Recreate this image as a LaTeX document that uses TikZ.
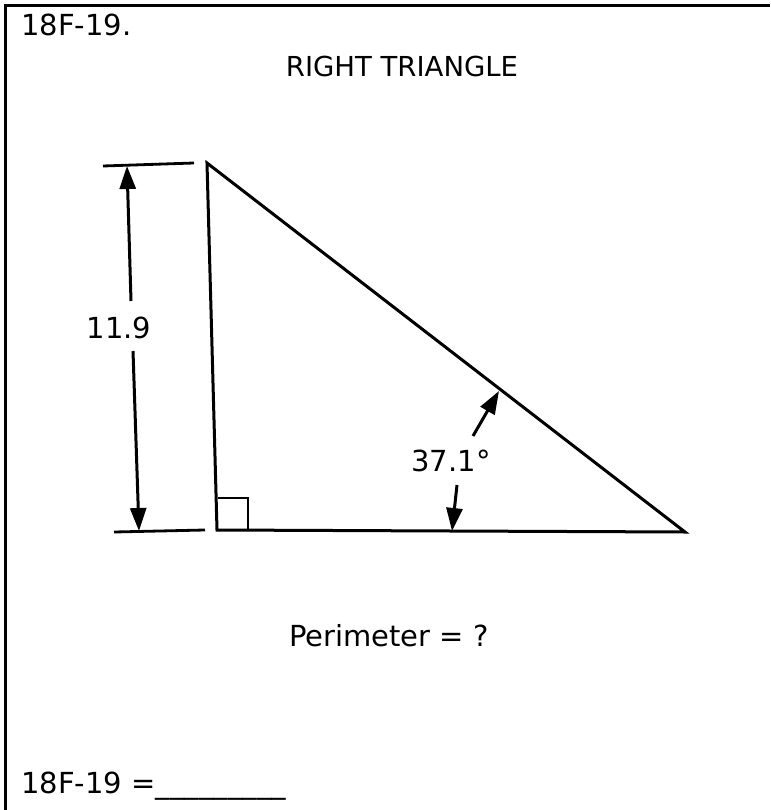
\documentclass[tikz,border=0pt]{standalone}
\usepackage{fontspec}
\setmainfont{DejaVu Sans}
\usetikzlibrary{arrows.meta}
\begin{document}
\begin{tikzpicture}[x=1pt,y=-1pt,
  txt/.style={inner sep=0pt,font=\fontsize{27.5}{33}\selectfont},
  txtb/.style={inner sep=0pt,font=\fontsize{29}{34}\selectfont},
  edge/.style={line width=3pt,line join=miter},
  dimline/.style={line width=3pt,-{Triangle[length=23pt,width=16pt]}},
  ext/.style={line width=2.8pt}]
\useasboundingbox (0,0) rectangle (770,810);
% frame
\coordinate (fbl) at (5,810);
\coordinate (ftl) at (5,6);
\coordinate (ftr) at (770,6);
\draw[line width=3pt] (fbl) -- (ftl) -- (ftr);
% texts
\node[txtb,anchor=base west] (hdr) at (21,36) {18F-19.};
\node[txt,anchor=base] (title) at (402,77) {RIGHT TRIANGLE};
\node[txtb,anchor=base] (perim) at (389,646) {Perimeter = ?};
\node[txtb,anchor=base west] (ans) at (21,793) {18F-19 =\_\_\_\_\_\_\_\_\_};
% triangle
\coordinate (A) at (207,163);
\coordinate (B) at (217,530);
\coordinate (C) at (685,532);
\draw[edge] (A) -- (B) -- (C) -- cycle;
% right-angle mark
\coordinate (s1) at (218,498);
\coordinate (s2) at (248,498);
\coordinate (s3) at (248,530);
\draw[line width=2.8pt] (s1) -- (s2) -- (s3);
% extension lines
\coordinate (e1a) at (103,166);
\coordinate (e1b) at (194,163);
\coordinate (e2a) at (114,532);
\coordinate (e2b) at (205,530);
\draw[ext] (e1a) -- (e1b);
\draw[ext] (e2a) -- (e2b);
% dimension 11.9
\node[txtb] (dim) at (119,328) {11.9};
\coordinate (d1s) at (131,301);
\coordinate (d1e) at (127,166);
\coordinate (d2s) at (133,351);
\coordinate (d2e) at (139,531);
\draw[dimline] (d1s) -- (d1e);
\draw[dimline] (d2s) -- (d2e);
% angle 37.1
\node[txtb] (ang) at (451,461) {37.1°};
\coordinate (a1s) at (473,436);
\coordinate (a1e) at (499,391);
\coordinate (a2s) at (457,485);
\coordinate (a2e) at (452,531);
\draw[dimline] (a1s) -- (a1e);
\draw[dimline] (a2s) -- (a2e);
\end{tikzpicture}
\end{document}
